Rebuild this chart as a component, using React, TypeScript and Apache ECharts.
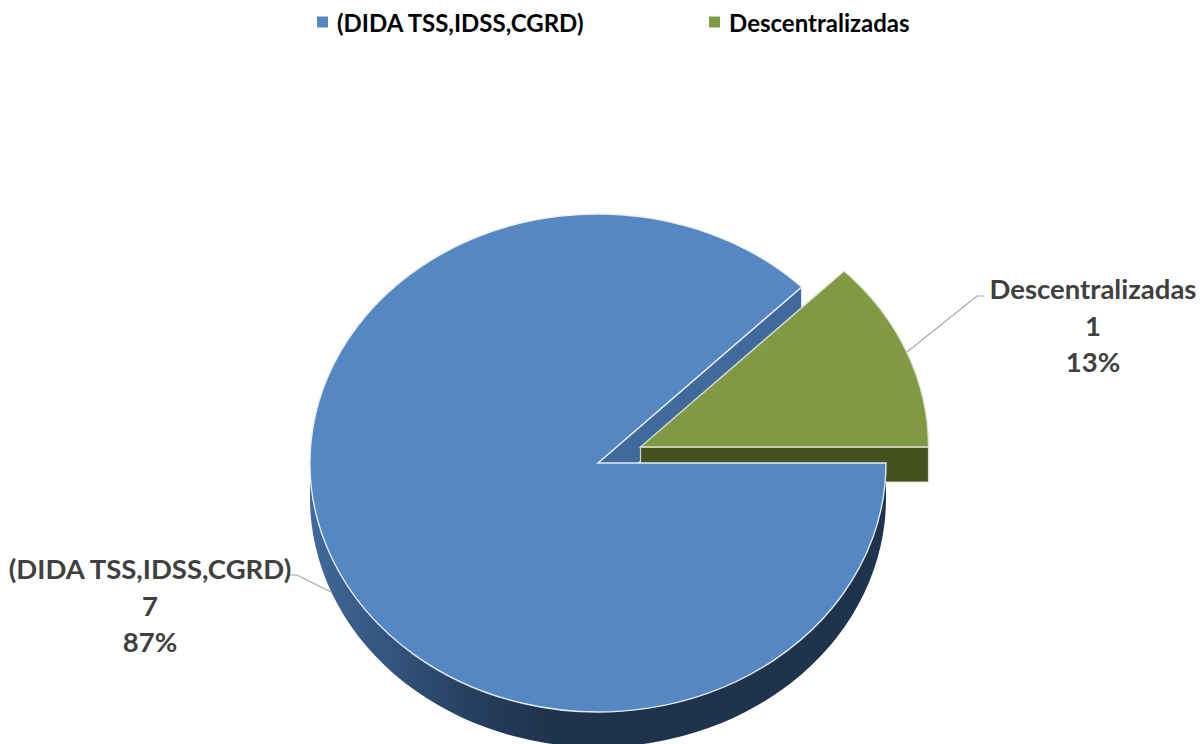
import React, { useEffect, useRef } from "react";
import * as echarts from "echarts";

const categories = ["(DIDA TSS,IDSS,CGRD)", "Descentralizadas"];
const values = [7, 1];
const percentLabels = ["87%", "13%"];

const topColors = ["#5587C2", "#809A43"];
const cutColors = ["#41699B", "#44521F"];
const edgeColors = ["rgba(232,239,248,0.95)", "rgba(225,228,215,0.9)"];
const FONT = "Lato, Carlito, sans-serif";

const CX = 598, CY = 463, RX = 288, RY = 249, DEPTH = 35, START_DEG = 45;
const offsets = [[0, 0], [42.5, -16]];
const labelCenters = [[150, 605], [1093, 325]];
const leaderLines = [
  [[332, 592.5], [297, 575], [290, 575]],
  [[907, 352], [977, 296], [984, 296]],
];

const total = values.reduce((a, b) => a + b, 0);
function span(i: number) {
  let a0 = START_DEG;
  for (let k = 0; k < i; k++) a0 += (values[k] / total) * 360;
  return [a0, a0 + (values[i] / total) * 360];
}
function pt(i: number, deg: number, dy = 0) {
  const r = (deg * Math.PI) / 180;
  return [CX + offsets[i][0] + RX * Math.cos(r), CY + offsets[i][1] + dy - RY * Math.sin(r)];
}
function arcTo(i: number, a1: number, dy: number, ccw: boolean, large: boolean) {
  const p = pt(i, a1, dy);
  return `A ${RX} ${RY} 0 ${large ? 1 : 0} ${ccw ? 0 : 1} ${p[0]} ${p[1]}`;
}
function topPath(i: number) {
  const [a0, a1] = span(i);
  const s = pt(i, a0);
  const c = [CX + offsets[i][0], CY + offsets[i][1]];
  return `M ${c[0]} ${c[1]} L ${s[0]} ${s[1]} ${arcTo(i, a1, 0, true, a1 - a0 > 180)} Z`;
}
function cutPath(i: number, deg: number) {
  const p = pt(i, deg);
  const c = [CX + offsets[i][0], CY + offsets[i][1]];
  return `M ${c[0]} ${c[1]} L ${p[0]} ${p[1]} L ${p[0]} ${p[1] + DEPTH} L ${c[0]} ${c[1] + DEPTH} Z`;
}
function wallPath(i: number) {
  const [a0, a1] = span(i);
  const from = Math.max(a0, 180);
  const to = Math.min(a1, 360);
  if (to <= from) return null;
  const s = pt(i, from);
  const e = pt(i, to, DEPTH);
  return `M ${s[0]} ${s[1]} ${arcTo(i, to, 0, true, false)} L ${e[0]} ${e[1]} ${arcTo(i, from, DEPTH, false, false)} Z`;
}

const wallGradient = {
  type: "linear", global: true, x: 310, y: 0, x2: 886, y2: 0,
  colorStops: [
    { offset: 0, color: "#41699B" },
    { offset: 0.2, color: "#2C4B70" },
    { offset: 0.32, color: "#233A59" },
    { offset: 0.43, color: "#1F324C" },
    { offset: 1, color: "#1F334C" },
  ],
};

function sideElements(i: number) {
  const [a0] = span(i);
  const children: any[] = [];
  if (i === 0) {
    children.push({ type: "path", shape: { pathData: cutPath(i, a0) }, style: { fill: cutColors[i], stroke: "rgba(232,239,248,0.9)", lineWidth: 1.2 } });
    const w = wallPath(i);
    if (w) children.push({ type: "path", shape: { pathData: w }, style: { fill: wallGradient } });
  } else {
    children.push({ type: "path", shape: { pathData: cutPath(i, a0) }, style: { fill: cutColors[i], stroke: edgeColors[i], lineWidth: 1.2 } });
  }
  return children;
}
function topElements(i: number, v: number) {
  const c = labelCenters[i];
  return [
    { type: "path", shape: { pathData: topPath(i) }, style: { fill: topColors[i], stroke: edgeColors[i], lineWidth: 1.4 } },
    { type: "polyline", shape: { points: leaderLines[i] }, style: { fill: "none", stroke: "#A6A6A6", lineWidth: 1.2 } },
    {
      type: "text", x: c[0], y: c[1],
      style: {
        text: `${categories[i]}\n${v}\n${percentLabels[i]}`,
        align: "center", verticalAlign: "middle", fontFamily: FONT, fontWeight: 700,
        fontSize: 27.5, lineHeight: 36.5, fill: "#404040",
      },
    },
  ];
}

export default function App() {
  const ref = useRef<HTMLDivElement>(null);
  useEffect(() => {
    document.body.style.margin = "0";
    const chart = echarts.init(ref.current!, null, { renderer: "svg" });
    chart.setOption({
      animation: false,
      backgroundColor: "#FFFFFF",
      legend: {
        data: categories,
        left: 312, top: 5, itemWidth: 11, itemHeight: 11, itemGap: 124, icon: "rect",
        textStyle: { fontFamily: FONT, fontWeight: 700, fontSize: 24, color: "#000000", padding: [0, 0, 0, 4] },
      },
      series: [
        {
          type: "custom", name: "lateral", coordinateSystem: "none", silent: true, data: [[values[0]]],
          renderItem: () => ({ type: "group", children: sideElements(0) }),
        },
        {
          type: "custom", name: categories[1], coordinateSystem: "none", silent: true, data: [[values[1]]],
          itemStyle: { color: topColors[1] },
          renderItem: (_: any, api: any) => ({ type: "group", children: [...sideElements(1), ...topElements(1, api.value(0))] }),
        },
        {
          type: "custom", name: categories[0], coordinateSystem: "none", silent: true, data: [[values[0]]],
          itemStyle: { color: topColors[0] },
          renderItem: (_: any, api: any) => ({ type: "group", children: topElements(0, api.value(0)) }),
        },
      ],
    });
    return () => chart.dispose();
  }, []);
  return <div ref={ref} style={{ width: 1204, height: 744 }} />;
}
